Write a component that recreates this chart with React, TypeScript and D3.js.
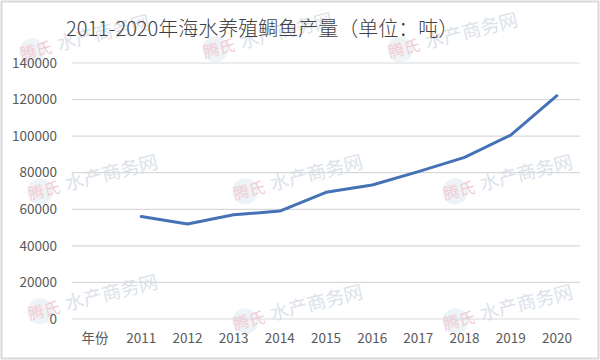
import React from "react";
import * as d3 from "d3";

const categories = ["年份", "2011", "2012", "2013", "2014", "2015", "2016", "2017", "2018", "2019", "2020"];
const years = ["2011", "2012", "2013", "2014", "2015", "2016", "2017", "2018", "2019", "2020"];
const production = [56000, 52000, 57000, 59000, 69300, 73300, 80600, 88400, 100600, 122100];
const yTicks = [0, 20000, 40000, 60000, 80000, 100000, 120000, 140000];
const title = "2011-2020年海水养殖鲷鱼产量（单位：吨）";
const watermarkPositions: [number, number][] = [
  [22, 60], [205, 58], [390, 58],
  [30, 200], [235, 200], [445, 200],
  [30, 320], [235, 330], [445, 330],
];

export default function App() {
  const W = 600, H = 360;
  const x = d3.scaleBand<string>().domain(categories).range([72, 580]);
  const y = d3.scaleLinear().domain([0, 140000]).range([319, 63]);
  const line = d3
    .line<number>()
    .x((_, i) => (x(years[i]) as number) + x.bandwidth() / 2)
    .y((d) => y(d));
  const font = "'Noto Sans CJK SC', 'Noto Sans', sans-serif";
  return (
    <svg width={W} height={H} style={{ position: "absolute", left: 0, top: 0, background: "#fff" }} fontFamily={font}>
      <rect x={1.5} y={1.5} width={W - 3} height={H - 3} fill="#fff" stroke="#d9d9d9" strokeWidth={2} />
      {watermarkPositions.map(([wx, wy], i) => (
        <g key={i} transform={`translate(${wx},${wy}) rotate(-14)`} opacity={0.5}>
          <circle cx={12} cy={-6} r={13} fill="#c9d8ea" opacity={0.6} />
          <text x={0} y={0} fontSize={16} fill="#e79aa6">腾氏</text>
          <text x={38} y={0} fontSize={19} fill="#b9c6d6">水产商务网</text>
        </g>
      ))}
      {yTicks.map((t) => (
        <g key={t}>
          <line x1={72} x2={580} y1={y(t)} y2={y(t)} stroke="#d9d9d9" strokeWidth={1.2} />
          <text x={57} y={y(t)} dy="0.35em" textAnchor="end" fontSize={13.5} fill="#595959">
            {t}
          </text>
        </g>
      ))}
      {categories.map((c) => (
        <text key={c} x={(x(c) as number) + x.bandwidth() / 2} y={338} dy="0.35em" textAnchor="middle" fontSize={13.5} fill="#595959">
          {c}
        </text>
      ))}
      <path d={line(production) || ""} fill="none" stroke="#4572B7" strokeWidth={3} strokeLinejoin="round" strokeLinecap="round" />
      <text x={66} y={29} dy="0.35em" fontSize={20} fontWeight={300} fill="#404040">
        {title}
      </text>
    </svg>
  );
}
